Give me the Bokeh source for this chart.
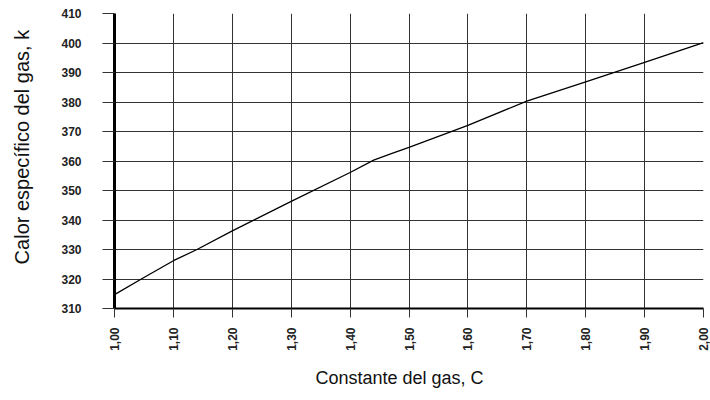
import math
from bokeh.plotting import figure
from bokeh.models import FixedTicker, Range1d, Title
from bokeh.embed import file_html
from bokeh.resources import INLINE

C = [1.00, 1.05, 1.10, 1.14, 1.20, 1.30, 1.40, 1.44, 1.47, 1.50, 1.60, 1.70, 1.80, 1.90, 2.00]
k = [314.7, 320.5, 326.2, 330.0, 336.3, 346.3, 356.1, 360.3, 362.5, 364.6, 372.1, 380.3, 386.8, 393.4, 400.1]

x_ticks = [1.0, 1.1, 1.2, 1.3, 1.4, 1.5, 1.6, 1.7, 1.8, 1.9, 2.0]
x_tick_labels = ["1,00", "1,10", "1,20", "1,30", "1,40", "1,50", "1,60", "1,70", "1,80", "1,90", "2,00"]
y_ticks = [310, 320, 330, 340, 350, 360, 370, 380, 390, 400, 410]

x_label = "Constante del gas, C"
y_label = "Calor específico del gas, k"

FONT = "Liberation Sans"

p = figure(width=710, height=400, output_backend="svg", toolbar_location=None,
           x_range=Range1d(1.0, 2.0), y_range=Range1d(310, 410),
           min_border_left=114, min_border_right=7, min_border_top=13, min_border_bottom=92)
p.outline_line_color = None
p.background_fill_color = "white"

p.line(C, k, line_color="black", line_width=1.3)

p.xaxis.ticker = FixedTicker(ticks=x_ticks)
p.xaxis.major_label_overrides = {t: l for t, l in zip(x_ticks, x_tick_labels)}
p.xaxis.major_label_orientation = math.pi / 2
p.yaxis.ticker = FixedTicker(ticks=y_ticks)

for ax in (p.xaxis[0], p.yaxis[0]):
    ax.minor_tick_line_color = None
    ax.major_tick_in = 0
    ax.major_tick_line_color = "#333333"
    ax.major_tick_line_width = 1
    ax.axis_line_color = "black"
    ax.major_label_text_font = FONT
    ax.major_label_text_font_size = "12px"
    ax.major_label_text_font_style = "bold"
    ax.major_label_text_color = "#222222"

p.xaxis.axis_line_width = 2
p.yaxis.axis_line_width = 3
p.xaxis.major_tick_out = 9
p.yaxis.major_tick_out = 12
p.xaxis.major_label_standoff = 10
p.yaxis.major_label_standoff = 21

# y-axis title: leading non-breaking spaces lift the text slightly above the frame centre
p.yaxis.axis_label = "\u00a0" * 5 + y_label
p.yaxis.axis_label_standoff = 25
p.yaxis.axis_label_text_font = FONT
p.yaxis.axis_label_text_font_size = "20px"
p.yaxis.axis_label_text_font_style = "normal"
p.yaxis.axis_label_text_color = "#111111"

p.xgrid.ticker = FixedTicker(ticks=x_ticks)
p.ygrid.ticker = FixedTicker(ticks=y_ticks)
for g in (p.xgrid[0], p.ygrid[0]):
    g.grid_line_color = "#333333"
    g.grid_line_width = 1

p.add_layout(Title(text=x_label, align="left", offset=201, standoff=25,
                   text_font=FONT, text_font_size="18px", text_font_style="normal",
                   text_color="#111111"), "below")

open("out.html", "w").write(file_html(p, INLINE))
